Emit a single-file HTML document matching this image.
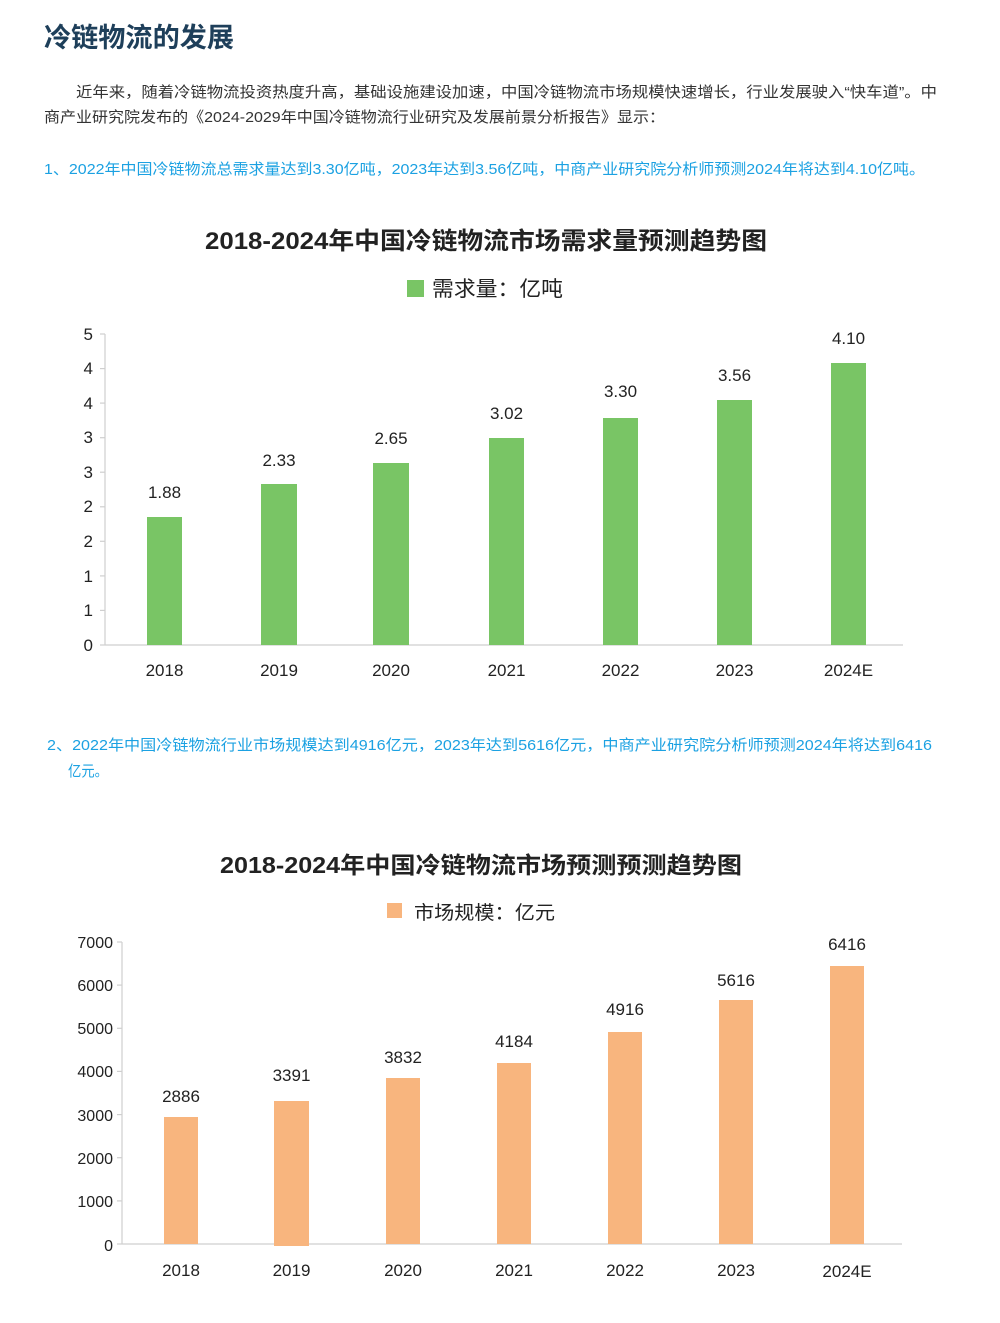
<!DOCTYPE html>
<html><head><meta charset="utf-8"><style>
html,body{margin:0;padding:0;background:#fff;}
svg{display:block;}
text{font-family:"Liberation Sans","Noto Sans CJK SC",sans-serif;}
</style></head><body>
<svg width="1000" height="1323" viewBox="0 0 1000 1323" xmlns="http://www.w3.org/2000/svg">
<rect width="1000" height="1323" fill="#fff"/>
<text x="44" y="47" font-size="27" font-weight="bold" fill="#1e3f5a" textLength="190" lengthAdjust="spacingAndGlyphs">冷链物流的发展</text>
<text x="76" y="97" font-size="15" fill="#333" textLength="861" lengthAdjust="spacingAndGlyphs">近年来，随着冷链物流投资热度升高，基础设施建设加速，中国冷链物流市场规模快速增长，行业发展驶入“快车道”。中</text>
<text x="44" y="122" font-size="15" fill="#333" textLength="621" lengthAdjust="spacingAndGlyphs">商产业研究院发布的《2024-2029年中国冷链物流行业研究及发展前景分析报告》显示：</text>
<text x="44" y="174" font-size="15" fill="#1ba1e2" textLength="881" lengthAdjust="spacingAndGlyphs">1、2022年中国冷链物流总需求量达到3.30亿吨，2023年达到3.56亿吨，中商产业研究院分析师预测2024年将达到4.10亿吨。</text>

<!-- Chart 1 -->
<text x="205" y="249" font-size="24" font-weight="bold" fill="#222" textLength="562" lengthAdjust="spacingAndGlyphs">2018-2024年中国冷链物流市场需求量预测趋势图</text>
<rect x="407" y="280" width="17" height="17" fill="#79c565"/>
<text x="432" y="296" font-size="21" fill="#222" textLength="131" lengthAdjust="spacingAndGlyphs">需求量：亿吨</text>
<g stroke="#cfcfcf" stroke-width="1.2">
<line x1="105" y1="334" x2="105" y2="645"/>
<line x1="105" y1="645" x2="903" y2="645"/>
<line x1="100" y1="334" x2="105" y2="334"/>
<line x1="100" y1="368.6" x2="105" y2="368.6"/>
<line x1="100" y1="403.1" x2="105" y2="403.1"/>
<line x1="100" y1="437.7" x2="105" y2="437.7"/>
<line x1="100" y1="472.2" x2="105" y2="472.2"/>
<line x1="100" y1="506.8" x2="105" y2="506.8"/>
<line x1="100" y1="541.3" x2="105" y2="541.3"/>
<line x1="100" y1="575.9" x2="105" y2="575.9"/>
<line x1="100" y1="610.4" x2="105" y2="610.4"/>
<line x1="100" y1="645" x2="105" y2="645"/>
</g>
<g font-size="17" fill="#222" text-anchor="end">
<text x="93" y="340">5</text>
<text x="93" y="374">4</text>
<text x="93" y="409">4</text>
<text x="93" y="443">3</text>
<text x="93" y="478">3</text>
<text x="93" y="512">2</text>
<text x="93" y="547">2</text>
<text x="93" y="582">1</text>
<text x="93" y="616">1</text>
<text x="93" y="651">0</text>
</g>
<g fill="#79c565">
<rect x="147" y="517" width="35" height="128"/>
<rect x="261" y="484" width="36" height="161"/>
<rect x="373" y="463" width="36" height="182"/>
<rect x="489" y="438" width="35" height="207"/>
<rect x="603" y="418" width="35" height="227"/>
<rect x="717" y="400" width="35" height="245"/>
<rect x="831" y="363" width="35" height="282"/>
</g>
<g font-size="17" fill="#222" text-anchor="middle">
<text x="164.5" y="498">1.88</text>
<text x="279" y="466">2.33</text>
<text x="391" y="444">2.65</text>
<text x="506.5" y="419">3.02</text>
<text x="620.5" y="397">3.30</text>
<text x="734.5" y="381">3.56</text>
<text x="848.5" y="344">4.10</text>
<text x="164.5" y="676">2018</text>
<text x="279" y="676">2019</text>
<text x="391" y="676">2020</text>
<text x="506.5" y="676">2021</text>
<text x="620.5" y="676">2022</text>
<text x="734.5" y="676">2023</text>
<text x="848.5" y="676">2024E</text>
</g>

<text x="47" y="750" font-size="15" fill="#1ba1e2" textLength="885" lengthAdjust="spacingAndGlyphs">2、2022年中国冷链物流行业市场规模达到4916亿元，2023年达到5616亿元，中商产业研究院分析师预测2024年将达到6416</text>
<text x="68" y="776" font-size="15" fill="#1ba1e2" textLength="40" lengthAdjust="spacingAndGlyphs">亿元。</text>

<!-- Chart 2 -->
<text x="220" y="873" font-size="23" font-weight="bold" fill="#222" textLength="522" lengthAdjust="spacingAndGlyphs">2018-2024年中国冷链物流市场预测预测趋势图</text>
<rect x="387" y="903" width="15" height="15" fill="#f8b57e"/>
<text x="414" y="919" font-size="19" fill="#222" textLength="141" lengthAdjust="spacingAndGlyphs">市场规模：亿元</text>
<g stroke="#cfcfcf" stroke-width="1.2">
<line x1="122" y1="942" x2="122" y2="1244"/>
<line x1="122" y1="1244" x2="902" y2="1244"/>
<line x1="117" y1="942" x2="122" y2="942"/>
<line x1="117" y1="985.1" x2="122" y2="985.1"/>
<line x1="117" y1="1028.3" x2="122" y2="1028.3"/>
<line x1="117" y1="1071.4" x2="122" y2="1071.4"/>
<line x1="117" y1="1114.6" x2="122" y2="1114.6"/>
<line x1="117" y1="1157.7" x2="122" y2="1157.7"/>
<line x1="117" y1="1200.9" x2="122" y2="1200.9"/>
<line x1="117" y1="1244" x2="122" y2="1244"/>
</g>
<g font-size="16" fill="#222" text-anchor="end">
<text x="113" y="948">7000</text>
<text x="113" y="991">6000</text>
<text x="113" y="1034">5000</text>
<text x="113" y="1077">4000</text>
<text x="113" y="1121">3000</text>
<text x="113" y="1164">2000</text>
<text x="113" y="1207">1000</text>
<text x="113" y="1251">0</text>
</g>
<g fill="#f8b57e">
<rect x="164" y="1117" width="34" height="127"/>
<rect x="274" y="1101" width="35" height="145"/>
<rect x="386" y="1078" width="34" height="166"/>
<rect x="497" y="1063" width="34" height="181"/>
<rect x="608" y="1032" width="34" height="212"/>
<rect x="719" y="1000" width="34" height="244"/>
<rect x="830" y="966" width="34" height="278"/>
</g>
<g font-size="17" fill="#222" text-anchor="middle">
<text x="181" y="1102">2886</text>
<text x="291.5" y="1081">3391</text>
<text x="403" y="1063">3832</text>
<text x="514" y="1047">4184</text>
<text x="625" y="1015">4916</text>
<text x="736" y="986">5616</text>
<text x="847" y="950">6416</text>
<text x="181" y="1276">2018</text>
<text x="291.5" y="1276">2019</text>
<text x="403" y="1276">2020</text>
<text x="514" y="1276">2021</text>
<text x="625" y="1276">2022</text>
<text x="736" y="1276">2023</text>
<text x="847" y="1277">2024E</text>
</g>
</svg>
</body></html>
